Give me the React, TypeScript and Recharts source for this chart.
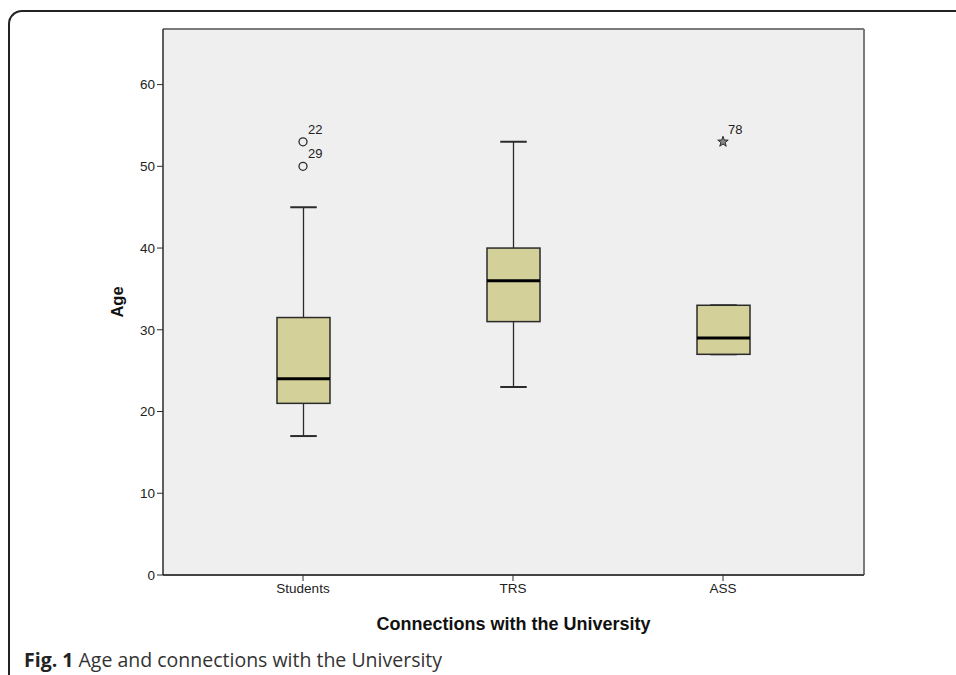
import React from "react"
import {
  Bar,
  CartesianGrid,
  ComposedChart,
  LabelList,
  Scatter,
  XAxis,
  YAxis,
} from "recharts"

// box plot summary per group
const groups = ["Students", "TRS", "ASS"]
const whiskerLow = [17, 23, 27]
const q1 = [21, 31, 27]
const median = [24, 36, 29]
const q3 = [31.5, 40, 33]
const whiskerHigh = [45, 53, 33]

// outliers / extremes with case numbers
const outlierGroups = ["Students", "Students", "ASS"]
const outlierAges = [53, 50, 53]
const outlierCases = ["22", "29", "78"]
const outlierKinds = ["circle", "circle", "star"]

const yTicks = [0, 10, 20, 30, 40, 50, 60]

const boxData = groups.map((group, i) => ({
  group,
  box: [q1[i], q3[i]],
  low: whiskerLow[i],
  q1: q1[i],
  median: median[i],
  q3: q3[i],
  high: whiskerHigh[i],
}))

const outlierData = outlierGroups.map((group, i) => ({
  group,
  age: outlierAges[i],
  caseNo: outlierCases[i],
  kind: outlierKinds[i],
}))

const BOX_FILL = "#d4d09a"
const INK = "#2b2b2b"
const AXIS_FONT = "'Liberation Sans', Arial, sans-serif"

function BoxShape(props: any) {
  const { x, y, width, height, payload } = props
  if (x == null || y == null) return null
  // pixels per unit, from the bar the library already scaled (q1..q3)
  const k = height / (payload.q3 - payload.q1)
  const toY = (v: number) => y + (payload.q3 - v) * k
  const cx = x + width / 2
  const capHalf = width / 4
  const yHigh = toY(payload.high)
  const yLow = toY(payload.low)
  const yMed = toY(payload.median)
  return (
    <g>
      <line x1={cx} x2={cx} y1={yHigh} y2={y} stroke={INK} strokeWidth={1.3} />
      <line x1={cx} x2={cx} y1={y + height} y2={yLow} stroke={INK} strokeWidth={1.3} />
      <line x1={cx - capHalf} x2={cx + capHalf} y1={yHigh} y2={yHigh} stroke={INK} strokeWidth={2} />
      <line x1={cx - capHalf} x2={cx + capHalf} y1={yLow} y2={yLow} stroke={INK} strokeWidth={2} />
      <rect x={x} y={y} width={width} height={height} fill={BOX_FILL} stroke={INK} strokeWidth={1.5} />
      <line x1={x} x2={x + width} y1={yMed} y2={yMed} stroke="#000" strokeWidth={3} />
    </g>
  )
}

function OutlierShape(props: any) {
  const { cx, cy, payload } = props
  if (cx == null || cy == null) return null
  if (payload.kind === "star") {
    const pts: string[] = []
    for (let i = 0; i < 10; i++) {
      const r = i % 2 === 0 ? 5.5 : 2.2
      const a = -Math.PI / 2 + (i * Math.PI) / 5
      pts.push(`${cx + r * Math.cos(a)},${cy + r * Math.sin(a)}`)
    }
    return <polygon points={pts.join(" ")} fill="#888" stroke={INK} strokeWidth={1} />
  }
  return <circle cx={cx} cy={cy} r={4} fill="none" stroke={INK} strokeWidth={1.3} />
}

function CaseLabel(props: any) {
  const { x, y, width, height, value } = props
  const cx = x + (width || 0) / 2
  const cy = y + (height || 0) / 2
  return (
    <text x={cx + 5} y={cy - 8} fontSize={13} fill="#222" fontFamily={AXIS_FONT}>
      {value}
    </text>
  )
}

export default function App() {
  return (
    <div style={{ position: "absolute", left: 0, top: 0, width: 956, height: 675, background: "#fff", overflow: "hidden" }}>
      <div
        style={{
          position: "absolute",
          left: 8,
          top: 10,
          width: 960,
          height: 680,
          borderTop: "2px solid #222",
          borderLeft: "2px solid #222",
          borderTopLeftRadius: 14,
        }}
      />
      <div style={{ position: "absolute", left: 0, top: 0 }}>
        <ComposedChart
          width={956}
          height={675}
          data={boxData}
          margin={{ top: 29, right: 92, bottom: 40, left: 103 }}
        >
          <CartesianGrid fill="#efefef" horizontal={false} vertical={false} />
          {/* top and right edges of the plot frame */}
          <CartesianGrid
            stroke="#7a7a7a"
            strokeWidth={2}
            horizontalCoordinatesGenerator={({ offset }: any) => [offset.top]}
            verticalCoordinatesGenerator={({ offset }: any) => [offset.left + offset.width]}
          />
          <XAxis
            dataKey="group"
            type="category"
            allowDuplicatedCategory={false}
            padding={{ left: 35, right: 36 }}
            height={60}
            tickSize={6}
            axisLine={{ stroke: "#444", strokeWidth: 2 }}
            tickLine={{ stroke: INK }}
            tick={{ fill: "#222", fontSize: 13.5, fontFamily: AXIS_FONT }}
            label={{
              content: (p: any) => {
                const vb = p.viewBox
                return (
                  <text
                    x={vb.x + vb.width / 2}
                    y={vb.y + 55}
                    textAnchor="middle"
                    fontSize={18}
                    fontWeight="bold"
                    fill="#111"
                    fontFamily={AXIS_FONT}
                  >
                    Connections with the University
                  </text>
                )
              },
            }}
          />
          <YAxis
            type="number"
            domain={[0, 66.8]}
            ticks={yTicks}
            allowDataOverflow
            width={60}
            tickSize={6}
            axisLine={{ stroke: INK, strokeWidth: 1.5 }}
            tickLine={{ stroke: INK }}
            tick={{ fill: "#222", fontSize: 13.5, fontFamily: AXIS_FONT }}
            label={{
              content: (p: any) => {
                const vb = p.viewBox
                const lx = vb.x + 14
                const ly = vb.y + vb.height / 2
                return (
                  <text
                    x={lx}
                    y={ly}
                    transform={`rotate(-90, ${lx}, ${ly})`}
                    textAnchor="middle"
                    dominantBaseline="central"
                    fontSize={16.5}
                    fontWeight="bold"
                    fill="#111"
                    fontFamily={AXIS_FONT}
                  >
                    Age
                  </text>
                )
              },
            }}
          />
          <Bar dataKey="box" barSize={53} shape={(p: any) => <BoxShape {...p} />} isAnimationActive={false} />
          <Scatter data={outlierData} dataKey="age" shape={(p: any) => <OutlierShape {...p} />} isAnimationActive={false}>
            <LabelList dataKey="caseNo" content={(p: any) => <CaseLabel {...p} />} />
          </Scatter>
        </ComposedChart>
      </div>
      <div
        style={{
          position: "absolute",
          left: 24,
          top: 646,
          fontFamily: "'Open Sans', sans-serif",
          fontSize: 19.5,
          color: "#333",
          whiteSpace: "nowrap",
        }}
      >
        <b style={{ color: "#222" }}>Fig. 1</b> Age and connections with the University
      </div>
    </div>
  )
}
